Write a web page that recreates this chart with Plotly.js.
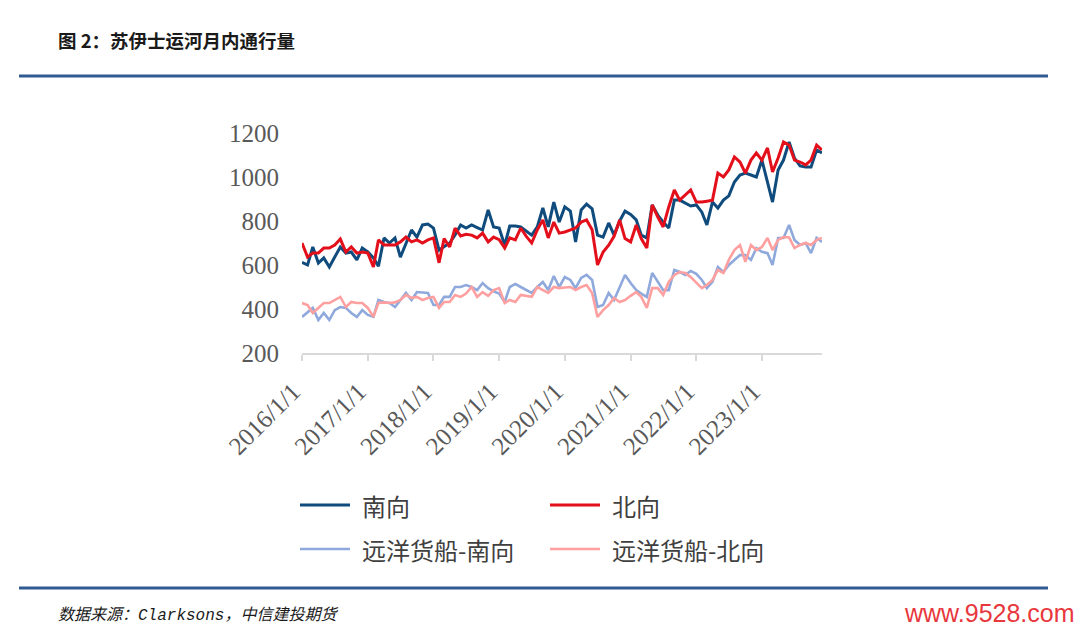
<!DOCTYPE html>
<html>
<head>
<meta charset="utf-8">
<script src="https://cdn.plot.ly/plotly-3.0.1.min.js"></script>
<style>html,body{margin:0;padding:0;background:#fff;}#chart{width:1080px;height:635px;}</style>
</head>
<body>
<div id="chart"></div>
<script>
// ---- data (monthly, Jan 2016 – Dec 2023) ----
const startYear = 2016, endYear = 2023;
const months = [];
for (let y = startYear; y <= endYear; y++) for (let m = 1; m <= 12; m++) months.push(y + '-' + String(m).padStart(2, '0') + '-01');

const seriesNames = ['南向', '北向', '远洋货船-南向', '远洋货船-北向'];

const south = [
  612, 600, 682, 609, 632, 591, 636, 682, 654, 659, 623, 677,
  660, 632, 595, 723, 700, 723, 636, 700, 759, 727, 782, 786,
  768, 668, 682, 700, 736, 782, 768, 782, 770, 759, 850, 773,
  768, 690, 777, 777, 773, 755, 736, 773, 859, 773, 886, 795,
  864, 845, 705, 850, 877, 855, 736, 727, 791, 736, 800, 845,
  830, 805, 736, 723, 873, 827, 795, 768, 895, 895, 880, 868,
  873, 840, 782, 886, 859, 895, 914, 977, 1009, 1018, 1009, 1000,
  1077, 977, 886, 1032, 1077, 1159, 1086, 1050, 1045, 1045, 1123, 1109
];
const north = [
  700, 636, 654, 654, 677, 677, 691, 718, 659, 682, 654, 659,
  654, 591, 714, 691, 691, 691, 705, 727, 705, 714, 700, 714,
  723, 610, 720, 682, 768, 732, 740, 736, 723, 745, 705, 727,
  715, 677, 723, 714, 768, 730, 700, 759, 805, 723, 795, 745,
  750, 760, 768, 795, 805, 760, 600, 659, 690, 730, 805, 720,
  705, 782, 720, 677, 873, 818, 773, 864, 941, 895, 918, 941,
  886, 886, 890, 895, 1018, 1000, 1032, 1091, 1068, 1018, 1077, 1109,
  1077, 1132, 1023, 1086, 1159, 1145, 1077, 1068, 1055, 1077, 1145, 1123
];
const oceanSouth = [
  364, 386, 405, 350, 382, 350, 395, 409, 405, 382, 364, 395,
  373, 364, 441, 432, 427, 409, 440, 473, 441, 477, 475, 473,
  418, 418, 455, 455, 500, 500, 509, 500, 486, 518, 495, 480,
  470, 432, 500, 514, 500, 485, 473, 500, 523, 486, 550, 500,
  545, 532, 495, 541, 555, 532, 409, 418, 473, 441, 500, 555,
  518, 486, 470, 455, 564, 523, 486, 486, 577, 568, 555, 573,
  560, 532, 495, 523, 591, 568, 600, 623, 645, 645, 623, 677,
  660, 654, 600, 723, 723, 782, 714, 691, 700, 654, 723, 705
];
const oceanNorth = [
  427, 418, 382, 405, 427, 427, 440, 455, 409, 432, 427, 427,
  405, 364, 427, 430, 427, 430, 441, 464, 450, 455, 441, 450,
  455, 405, 432, 432, 464, 455, 470, 500, 455, 477, 460, 486,
  495, 427, 441, 432, 464, 460, 455, 500, 486, 473, 500, 495,
  498, 500, 486, 500, 509, 473, 364, 395, 418, 450, 432, 441,
  460, 477, 455, 405, 495, 495, 464, 523, 555, 568, 564, 545,
  520, 495, 509, 532, 577, 564, 623, 668, 691, 614, 691, 668,
  682, 723, 668, 714, 727, 725, 677, 691, 700, 691, 714, 723
];

const yTicks = [200, 400, 600, 800, 1000, 1200];
const xTickVals = [], xTickText = [];
for (let y = startYear; y <= endYear; y++) { xTickVals.push(y + '-01-01'); xTickText.push(y + '/1/1'); }

const colors = ['#0f4c7d', '#e3101b', '#8fa9dc', '#ffa0a0'];
const widths = [3, 3, 2.6, 2.6];
const seriesData = [south, north, oceanSouth, oceanNorth];

// ---- geometry helpers (pixel -> paper) ----
const L = 302, R = 822, T = 133, B = 353, W = 1080, H = 635;
const px = x => (x - L) / (R - L);
const py = y => (B - y) / (B - T);

const traces = seriesData.map((d, i) => ({
  type: 'scatter', mode: 'lines', x: months, y: d, name: seriesNames[i],
  line: {color: colors[i], width: widths[i]}, showlegend: false
}));

const ruleColor = '#2f5b93';
const shapes = [
  {type: 'line', xref: 'paper', yref: 'paper', x0: px(19), x1: px(1048), y0: py(76), y1: py(76), line: {color: ruleColor, width: 3}},
  {type: 'line', xref: 'paper', yref: 'paper', x0: px(19), x1: px(1048), y0: py(588), y1: py(588), line: {color: ruleColor, width: 3}}
];
const annotations = [
  {xref: 'paper', yref: 'paper', x: px(56), y: py(40), xanchor: 'left', yanchor: 'middle', showarrow: false,
   text: '<b>图 2：苏伊士运河月内通行量</b>', font: {family: 'Noto Sans CJK SC', size: 18.5, color: '#1a1a1a'}},
  {xref: 'paper', yref: 'paper', x: px(56), y: py(615), xanchor: 'left', yanchor: 'middle', showarrow: false,
   text: '<i>数据来源：Clarksons，中信建投期货</i>', font: {family: 'Liberation Mono, Noto Sans CJK SC', size: 16, color: '#1a1a1a'}},
  {xref: 'paper', yref: 'paper', x: px(1077), y: py(613), xanchor: 'right', yanchor: 'middle', showarrow: false,
   text: 'www.9528.com', font: {family: 'Liberation Sans', size: 25, color: '#e8383d'}}
];

// legend (2 x 2)
const legPos = [[300, 505], [550, 505], [300, 549], [550, 549]];
legPos.forEach((p, i) => {
  shapes.push({type: 'line', xref: 'paper', yref: 'paper', x0: px(p[0]), x1: px(p[0] + 50), y0: py(p[1]), y1: py(p[1]),
    line: {color: colors[i], width: widths[i]}});
  annotations.push({xref: 'paper', yref: 'paper', x: px(p[0] + 60), y: py(p[1]), xanchor: 'left', yanchor: 'middle',
    showarrow: false, text: seriesNames[i], font: {family: 'Noto Sans CJK SC', size: 24, color: '#404040'}});
});

const layout = {
  width: W, height: H,
  margin: {l: L, r: W - R, t: T, b: H - B, pad: 0},
  paper_bgcolor: '#ffffff', plot_bgcolor: '#ffffff',
  showlegend: false,
  xaxis: {
    type: 'date', range: ['2016-01-01', '2023-12-01'], tickmode: 'array', tickvals: xTickVals, ticktext: xTickText,
    tickangle: -45, ticks: 'outside', ticklen: 6, tickwidth: 2, tickcolor: '#d9d9d9',
    ticklabelshift: -9, ticklabelstandoff: 6,
    showline: true, linecolor: '#d9d9d9', linewidth: 2, showgrid: false, zeroline: false,
    tickfont: {family: 'Liberation Serif', size: 25, color: '#595959'}
  },
  yaxis: {
    range: [200, 1200], tickmode: 'array', tickvals: yTicks, ticks: '', showline: false, showgrid: false, zeroline: false,
    ticklabelstandoff: 22,
    tickfont: {family: 'Liberation Serif', size: 25, color: '#595959'}
  },
  shapes: shapes, annotations: annotations
};

Plotly.newPlot('chart', traces, layout, {staticPlot: true, displayModeBar: false});
</script>
</body>
</html>
